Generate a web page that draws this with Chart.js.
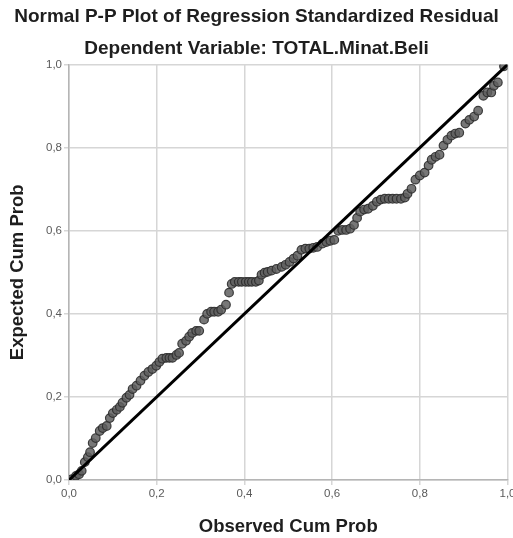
<!DOCTYPE html>
<html>
<head>
<meta charset="utf-8">
<script src="https://cdn.jsdelivr.net/npm/chart.js@4.4.1/dist/chart.umd.min.js"></script>
<style>
  html, body { margin: 0; padding: 0; background: #ffffff; }
  #wrap { width: 513px; height: 538px; }
</style>
</head>
<body>
<div id="wrap"><canvas id="c" width="513" height="538"></canvas></div>
<script>
// Observed cumulative probability (x) and expected cumulative probability (y)
const observedCumProb = [
  0.007, 0.016, 0.023, 0.029, 0.036, 0.043, 0.048, 0.054, 0.061, 0.070,
  0.077, 0.086, 0.093, 0.100, 0.109, 0.116, 0.122, 0.131, 0.138, 0.145,
  0.154, 0.163, 0.172, 0.181, 0.190, 0.199, 0.206, 0.213, 0.222, 0.229,
  0.236, 0.245, 0.251, 0.258, 0.267, 0.274, 0.281, 0.290, 0.297, 0.308,
  0.315, 0.324, 0.331, 0.340, 0.347, 0.358, 0.365, 0.371, 0.378, 0.387,
  0.394, 0.403, 0.410, 0.417, 0.426, 0.433, 0.439, 0.446, 0.453, 0.462,
  0.473, 0.485, 0.494, 0.503, 0.512, 0.521, 0.530, 0.539, 0.548, 0.557,
  0.566, 0.578, 0.587, 0.596, 0.605, 0.614, 0.623, 0.632, 0.641, 0.650,
  0.657, 0.664, 0.673, 0.682, 0.693, 0.702, 0.711, 0.720, 0.729, 0.738,
  0.747, 0.757, 0.766, 0.772, 0.781, 0.790, 0.800, 0.811, 0.820, 0.827,
  0.836, 0.845, 0.854, 0.863, 0.872, 0.881, 0.890, 0.904, 0.913, 0.924,
  0.933, 0.945, 0.954, 0.963, 0.969, 0.978, 0.992
];
const expectedCumProb = [
  0.002, 0.010, 0.014, 0.022, 0.043, 0.055, 0.067, 0.089, 0.101, 0.118,
  0.125, 0.130, 0.149, 0.161, 0.169, 0.176, 0.186, 0.198, 0.205, 0.219,
  0.227, 0.239, 0.251, 0.260, 0.267, 0.275, 0.284, 0.292, 0.294, 0.294,
  0.294, 0.301, 0.306, 0.328, 0.335, 0.345, 0.354, 0.359, 0.359, 0.386,
  0.400, 0.405, 0.405, 0.405, 0.410, 0.422, 0.451, 0.472, 0.477, 0.477,
  0.477, 0.477, 0.477, 0.477, 0.477, 0.480, 0.494, 0.499, 0.501, 0.504,
  0.508, 0.513, 0.518, 0.525, 0.533, 0.540, 0.554, 0.557, 0.557, 0.559,
  0.561, 0.569, 0.573, 0.576, 0.578, 0.600, 0.602, 0.602, 0.605, 0.614,
  0.631, 0.646, 0.651, 0.653, 0.660, 0.670, 0.675, 0.677, 0.677, 0.677,
  0.677, 0.677, 0.680, 0.689, 0.701, 0.723, 0.733, 0.740, 0.757, 0.771,
  0.778, 0.783, 0.805, 0.819, 0.829, 0.834, 0.836, 0.858, 0.867, 0.875,
  0.889, 0.925, 0.933, 0.933, 0.949, 0.957, 0.996
];
// Reference line (diagonal)
const referenceX = [0.0, 1.0];
const referenceY = [0.0, 1.0];
const tickValues = [0.0, 0.2, 0.4, 0.6, 0.8, 1.0];
const tickLabels = ['0,0', '0,2', '0,4', '0,6', '0,8', '1,0'];

const FONT = "'Liberation Sans', Arial, sans-serif";

const pts = observedCumProb.map((x, i) => ({ x: x, y: expectedCumProb[i] }));
const linePts = referenceX.map((x, i) => ({ x: x, y: referenceY[i] }));

function tickCb(v) {
  const idx = tickValues.findIndex(t => Math.abs(t - v) < 1e-6);
  return idx >= 0 ? tickLabels[idx] : '';
}

new Chart(document.getElementById('c'), {
  type: 'scatter',
  data: {
    datasets: [
      {
        label: 'Reference',
        type: 'line',
        data: linePts,
        borderColor: '#000000',
        borderWidth: 3,
        pointRadius: 0,
        fill: false,
        order: 1
      },
      {
        label: 'Residuals',
        data: pts,
        pointRadius: 4.3,
        pointBackgroundColor: 'rgba(95,95,95,0.85)',
        pointBorderColor: 'rgba(45,45,45,0.9)',
        pointBorderWidth: 1.2,
        order: 2
      }
    ]
  },
  options: {
    responsive: false,
    animation: false,
    devicePixelRatio: 1,
    layout: { padding: { left: 0, right: 0, top: 0, bottom: 0 } },
    plugins: {
      legend: { display: false },
      tooltip: { enabled: false },
      title: {
        display: true,
        text: 'Normal P-P Plot of Regression Standardized Residual',
        color: '#1e1e1e',
        font: { family: FONT, size: 19, weight: 'bold', lineHeight: 1.2 },
        padding: { top: 5, bottom: 0 }
      },
      subtitle: {
        display: true,
        text: 'Dependent Variable: TOTAL.Minat.Beli',
        color: '#1e1e1e',
        font: { family: FONT, size: 19, weight: 'bold', lineHeight: 1.2 },
        padding: { top: 10, bottom: 4 }
      }
    },
    scales: {
      x: {
        type: 'linear',
        min: 0, max: 1,
        afterBuildTicks: (s) => { s.ticks = tickValues.map(v => ({ value: v })); },
        afterFit: (s) => { s.height = 58; s.paddingLeft = 0; s.paddingRight = 0; },
        ticks: {
          callback: tickCb,
          color: '#5a5a5a',
          font: { family: FONT, size: 11.5 },
          padding: 2,
          maxRotation: 0,
          autoSkip: false
        },
        grid: {
          color: '#d6d6d6',
          lineWidth: 1.5,
          tickLength: 5,
          drawTicks: true
        },
        border: { color: '#b5b5b5', width: 1.5 },
        title: {
          display: true,
          text: 'Observed Cum Prob',
          color: '#1e1e1e',
          font: { family: FONT, size: 18.5, weight: 'bold', lineHeight: 1.0 },
          padding: { top: 2, bottom: 2 }
        }
      },
      y: {
        type: 'linear',
        min: 0, max: 1,
        afterBuildTicks: (s) => { s.ticks = tickValues.map(v => ({ value: v })); },
        afterFit: (s) => { s.width = 69; s.paddingTop = 0; s.paddingBottom = 0; },
        ticks: {
          callback: tickCb,
          color: '#5a5a5a',
          font: { family: FONT, size: 11.5 },
          padding: 2,
          autoSkip: false
        },
        grid: {
          color: '#d6d6d6',
          lineWidth: 1.5,
          tickLength: 5,
          drawTicks: true
        },
        border: { color: '#b5b5b5', width: 1.5 },
        title: {
          display: true,
          text: 'Expected Cum Prob',
          color: '#1e1e1e',
          font: { family: FONT, size: 18.5, weight: 'bold', lineHeight: 1.0 },
          padding: { top: 9, bottom: 2 }
        }
      }
    }
  }
});
</script>
</body>
</html>
